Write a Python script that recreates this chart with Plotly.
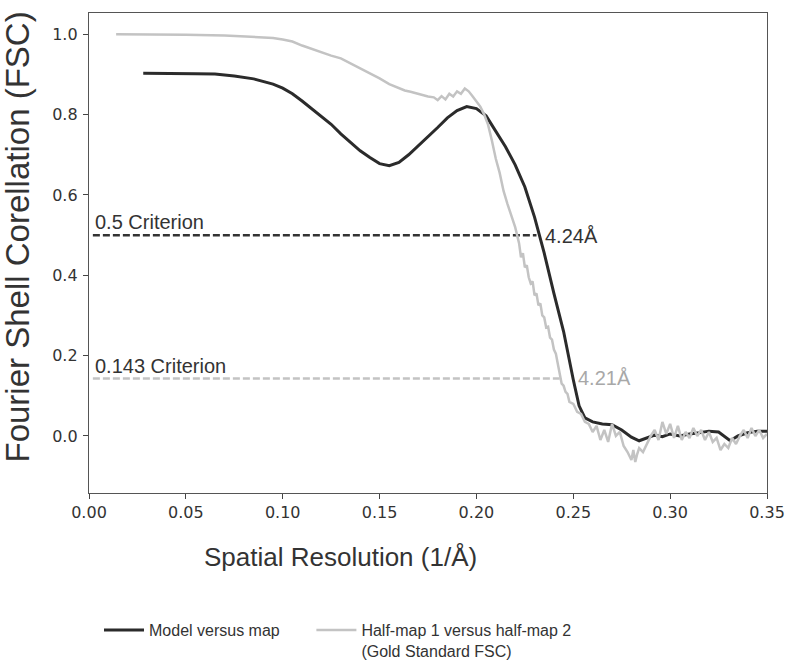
import plotly.graph_objects as go

# ---- data ----
model_x = [0.028, 0.035, 0.045, 0.055, 0.065, 0.075, 0.085, 0.095, 0.100, 0.105,
           0.110, 0.115, 0.120, 0.125, 0.130, 0.135, 0.140, 0.145, 0.150, 0.155,
           0.160, 0.165, 0.170, 0.175, 0.180, 0.185, 0.190, 0.195, 0.200, 0.205,
           0.210, 0.215, 0.220, 0.225, 0.230, 0.235, 0.240, 0.245, 0.250, 0.253,
           0.256, 0.260, 0.265, 0.270, 0.275, 0.280, 0.284, 0.288, 0.292, 0.296,
           0.300, 0.305, 0.310, 0.315, 0.320, 0.325, 0.328, 0.331, 0.335, 0.340,
           0.345, 0.350]
model_y = [0.903, 0.903, 0.903, 0.902, 0.901, 0.896, 0.889, 0.876, 0.866, 0.852,
           0.834, 0.815, 0.797, 0.776, 0.752, 0.730, 0.710, 0.693, 0.678, 0.673,
           0.681, 0.700, 0.722, 0.745, 0.768, 0.792, 0.810, 0.820, 0.815, 0.797,
           0.760, 0.720, 0.675, 0.620, 0.545, 0.455, 0.355, 0.260, 0.140, 0.075,
           0.045, 0.035, 0.030, 0.028, 0.015, -0.003, -0.012, -0.005, 0.002, -0.002,
           0.005, 0.000, 0.005, 0.008, 0.012, 0.010, 0.000, -0.012, 0.000, 0.008,
           0.012, 0.012]

half_x = [0.014, 0.030, 0.050, 0.070, 0.080, 0.090, 0.095, 0.100, 0.105, 0.110,
          0.115, 0.120, 0.125, 0.130, 0.135, 0.140, 0.145, 0.150, 0.155, 0.160,
          0.163, 0.166, 0.169, 0.172, 0.175, 0.178, 0.180, 0.182, 0.184, 0.186,
          0.188, 0.190, 0.192, 0.194, 0.196, 0.198, 0.200, 0.202, 0.204, 0.206,
          0.208, 0.210, 0.212, 0.214, 0.216, 0.218, 0.220, 0.222, 0.223, 0.224,
          0.225, 0.226, 0.227, 0.228, 0.229, 0.230, 0.231, 0.232, 0.233, 0.234,
          0.235, 0.236, 0.237, 0.238, 0.239, 0.240, 0.241, 0.242, 0.243, 0.244,
          0.245, 0.246, 0.247, 0.248, 0.250, 0.252, 0.254, 0.256, 0.258, 0.260,
          0.262, 0.264, 0.266, 0.268, 0.270, 0.272, 0.274, 0.276, 0.278, 0.280,
          0.281, 0.282, 0.283, 0.284, 0.286, 0.288, 0.290, 0.292, 0.294, 0.296,
          0.298, 0.300, 0.302, 0.304, 0.306, 0.308, 0.310, 0.312, 0.314, 0.316,
          0.318, 0.320, 0.322, 0.324, 0.326, 0.328, 0.330, 0.332, 0.334, 0.336,
          0.338, 0.340, 0.342, 0.344, 0.346, 0.348, 0.350]
half_y = [1.000, 1.000, 0.999, 0.997, 0.995, 0.993, 0.991, 0.987, 0.982, 0.972,
          0.963, 0.955, 0.947, 0.940, 0.928, 0.915, 0.902, 0.890, 0.876, 0.866,
          0.860, 0.857, 0.853, 0.850, 0.845, 0.843, 0.836, 0.846, 0.838, 0.852,
          0.845, 0.858, 0.852, 0.865, 0.858, 0.846, 0.832, 0.820, 0.800, 0.775,
          0.735, 0.690, 0.655, 0.610, 0.578, 0.550, 0.520, 0.480, 0.445, 0.455,
          0.420, 0.425, 0.395, 0.380, 0.385, 0.350, 0.355, 0.325, 0.330, 0.300,
          0.295, 0.270, 0.272, 0.245, 0.240, 0.215, 0.205, 0.180, 0.150, 0.130,
          0.125, 0.110, 0.105, 0.085, 0.080, 0.060, 0.055, 0.035, 0.030, 0.010,
          0.025, -0.010, 0.015, -0.015, 0.030, 0.000, 0.010, -0.025, -0.040, -0.060,
          -0.035, -0.065, -0.045, -0.030, -0.040, -0.020, 0.000, 0.015, -0.010, 0.035,
          0.005, 0.030, -0.005, 0.025, -0.010, 0.010, -0.005, 0.020, 0.000, 0.015,
          -0.010, 0.010, -0.015, -0.005, -0.035, -0.020, -0.030, -0.005, -0.020, 0.000,
          0.015, -0.005, 0.020, 0.000, 0.015, -0.005, 0.005]

crit_levels = [0.5, 0.143]
crit_start = [0.002, 0.002]
crit_end = [0.231, 0.243]
crit_labels = ["0.5 Criterion", "0.143 Criterion"]
res_labels = ["4.24Å", "4.21Å"]

series_names = ["Model versus map" + "\u00a0" * 6,
                "Half-map 1 versus half-map 2<br>(Gold Standard FSC)"]

x_ticks = [0.00, 0.05, 0.10, 0.15, 0.20, 0.25, 0.30, 0.35]
y_ticks = [0.0, 0.2, 0.4, 0.6, 0.8, 1.0]

DARK = "#2b2b2b"
GRAY = "#c3c3c3"
TXT = "#333333"
SANS = "Liberation Sans, Arial, sans-serif"
TICKF = "DejaVu Sans, sans-serif"

fig = go.Figure()

# criterion lines
fig.add_trace(go.Scatter(x=[crit_start[0], crit_end[0]], y=[crit_levels[0]] * 2, mode="lines",
                         line=dict(color="#333333", width=2.5, dash="7px,3px"),
                         showlegend=False, hoverinfo="skip"))
fig.add_trace(go.Scatter(x=[crit_start[1], crit_end[1]], y=[crit_levels[1]] * 2, mode="lines",
                         line=dict(color=GRAY, width=2.5, dash="7px,3px"),
                         showlegend=False, hoverinfo="skip"))

fig.add_trace(go.Scatter(x=model_x, y=model_y, mode="lines", name=series_names[0],
                         line=dict(color=DARK, width=3), legendrank=1))
fig.add_trace(go.Scatter(x=half_x, y=half_y, mode="lines", name=series_names[1],
                         line=dict(color=GRAY, width=2.5), legendrank=2))

# annotations
fig.add_annotation(x=crit_start[0], y=crit_levels[0], text=crit_labels[0], showarrow=False,
                   xanchor="left", yanchor="bottom", yshift=0, xshift=0,
                   font=dict(family=SANS, size=20, color=TXT))
fig.add_annotation(x=crit_start[1], y=crit_levels[1], text=crit_labels[1], showarrow=False,
                   xanchor="left", yanchor="bottom", yshift=0, xshift=0,
                   font=dict(family=SANS, size=20, color=TXT))
fig.add_annotation(x=crit_end[0], y=crit_levels[0], text=res_labels[0], showarrow=False,
                   xanchor="left", yanchor="middle", xshift=7, yshift=-1,
                   font=dict(family=SANS, size=20, color=TXT))
fig.add_annotation(x=crit_end[1], y=crit_levels[1], text=res_labels[1], showarrow=False,
                   xanchor="left", yanchor="middle", xshift=16, yshift=1,
                   font=dict(family=SANS, size=20, color="#a8a8a8"))

# axis titles as annotations
fig.add_annotation(x=(17 - 89) / 678, y=(493 - 237.5) / 480, xref="paper", yref="paper",
                   text="Fourier Shell Corellation (FSC)", textangle=-90, showarrow=False,
                   xanchor="center", yanchor="middle",
                   font=dict(family=SANS, size=33, color=TXT))
fig.add_annotation(x=(340.5 - 89) / 678, y=-(557 - 493) / 480, xref="paper", yref="paper",
                   text="Spatial Resolution (1/Å)", showarrow=False,
                   xanchor="center", yanchor="middle",
                   font=dict(family=SANS, size=26, color=TXT))

axis_common = dict(showline=True, mirror=True, linecolor="#555555", linewidth=1.3,
                   ticks="outside", ticklen=5, tickwidth=1.2, tickcolor="#444444",
                   showgrid=False, zeroline=False, automargin=False,
                   tickfont=dict(family=TICKF, size=16, color=TXT))

fig.update_layout(
    width=788, height=666,
    margin=dict(l=89, r=21, t=13, b=173, autoexpand=False),
    paper_bgcolor="white", plot_bgcolor="white",
    xaxis=dict(range=[0, 0.35], tickvals=x_ticks, tickformat=".2f", **axis_common),
    yaxis=dict(range=[-0.142, 1.053], tickvals=y_ticks, tickformat=".1f",
               ticklabelstandoff=2, **axis_common),
    legend=dict(orientation="h", x=(99 - 89) / 678, y=-(613 - 493) / 480,
                xanchor="left", yanchor="top", valign="top", itemwidth=40,
                font=dict(family=SANS, size=16, color=TXT), bgcolor="rgba(0,0,0,0)"),
    showlegend=True,
)

fig.write_html("out.html", config={"displayModeBar": False},
               post_script="document.body.style.margin='0px';")
